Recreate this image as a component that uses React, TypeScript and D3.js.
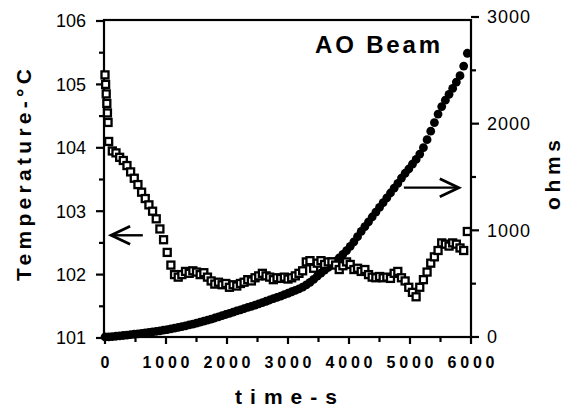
import * as d3 from 'd3'
import { useRef, useEffect } from 'react'

// temperature (open squares), [time s, deg C]
const tempSeries: [number, number][] = [
  [0, 105.15], [10, 105.0], [20, 104.85], [30, 104.7], [40, 104.55], [50, 104.4],
  [60, 104.1], [120, 103.95], [180, 103.92], [240, 103.85], [300, 103.8], [360, 103.72],
  [420, 103.62], [480, 103.52], [540, 103.42], [600, 103.3], [660, 103.2], [720, 103.1],
  [780, 103.0], [840, 102.88], [900, 102.72], [960, 102.55], [1020, 102.35], [1080, 102.15],
  [1140, 102.0], [1200, 101.96], [1260, 102.0], [1320, 102.05], [1380, 102.02], [1440, 102.06],
  [1500, 102.04], [1560, 102.0], [1620, 102.03], [1680, 101.96], [1740, 101.9], [1800, 101.85],
  [1860, 101.88], [1920, 101.84], [1980, 101.86], [2040, 101.8], [2100, 101.84], [2160, 101.82],
  [2220, 101.86], [2280, 101.88], [2340, 101.92], [2400, 101.9], [2460, 101.95], [2520, 101.98],
  [2580, 102.02], [2640, 101.98], [2700, 101.96], [2760, 101.92], [2820, 101.95], [2880, 101.94],
  [2940, 101.96], [3000, 101.93], [3060, 101.95], [3120, 101.98], [3180, 102.02], [3240, 102.06],
  [3300, 102.2], [3360, 102.22], [3420, 102.1], [3480, 102.18], [3540, 102.22], [3600, 102.16],
  [3660, 102.2], [3720, 102.2], [3780, 102.15], [3840, 102.08], [3900, 102.14], [3960, 102.2],
  [4020, 102.16], [4080, 102.08], [4140, 102.1], [4200, 102.05], [4260, 102.08], [4320, 102.0],
  [4380, 101.96], [4440, 101.95], [4500, 101.97], [4560, 101.95], [4620, 101.96], [4680, 101.94],
  [4740, 102.02], [4800, 102.05], [4860, 101.95], [4920, 101.9], [4980, 101.8], [5040, 101.72],
  [5100, 101.65], [5160, 101.8], [5220, 101.92], [5280, 102.04], [5340, 102.18], [5400, 102.28],
  [5460, 102.38], [5520, 102.5], [5580, 102.48], [5640, 102.45], [5700, 102.5], [5760, 102.48],
  [5820, 102.42], [5880, 102.38], [5940, 102.68],
]

// resistance (filled circles), [time s, ohms]
const ohmSeries: [number, number][] = [
  [0, 0], [60, 2], [120, 4], [180, 7], [240, 10], [300, 14], [360, 18], [420, 22], [480, 26],
  [540, 30], [600, 34], [660, 38], [720, 43], [780, 48], [840, 53], [900, 58], [960, 64],
  [1020, 70], [1080, 76], [1140, 83], [1200, 90], [1260, 97], [1320, 105], [1380, 113],
  [1440, 121], [1500, 130], [1560, 139], [1620, 148], [1680, 158], [1740, 168], [1800, 178],
  [1860, 189], [1920, 200], [1980, 211], [2040, 222], [2100, 233], [2160, 244], [2220, 255],
  [2280, 266], [2340, 277], [2400, 288], [2460, 299], [2520, 311], [2580, 323], [2640, 335],
  [2700, 347], [2760, 359], [2820, 371], [2880, 384], [2940, 397], [3000, 410], [3060, 424],
  [3120, 438], [3180, 452], [3240, 467], [3300, 488], [3360, 512], [3420, 540], [3480, 570],
  [3540, 598], [3600, 626], [3660, 652], [3720, 680], [3780, 710], [3840, 742], [3900, 775],
  [3960, 810], [4020, 850], [4080, 892], [4140, 940], [4200, 990], [4260, 1035], [4320, 1080],
  [4380, 1125], [4440, 1170], [4500, 1215], [4560, 1260], [4620, 1305], [4680, 1350],
  [4740, 1395], [4800, 1440], [4860, 1490], [4920, 1535], [4980, 1575], [5040, 1620],
  [5100, 1665], [5160, 1715], [5220, 1775], [5280, 1850], [5340, 1930], [5400, 2010],
  [5460, 2090], [5520, 2160], [5580, 2220], [5640, 2275], [5700, 2330], [5760, 2390],
  [5820, 2450], [5880, 2540], [5940, 2660],
]

const timeTicks = [0, 1000, 2000, 3000, 4000, 5000, 6000]
const timeMinor = [500, 1500, 2500, 3500, 4500, 5500]
const tempTicks = [101, 102, 103, 104, 105, 106]
const tempMinor = [101.5, 102.5, 103.5, 104.5, 105.5]
const ohmTicks = [0, 1000, 2000, 3000]
const ohmMinor = [500, 1500, 2500]

const font = '"Liberation Sans", Arial, sans-serif'

const App = () => {
  const svgRef = useRef(null)

  const width = 564
  const height = 410
  const left = 104
  const right = 471
  const top = 20
  const bottom = 337

  useEffect(() => {
    const svg = d3.select(svgRef.current)
    svg.selectAll('*').remove() // clear

    const x = d3.scaleLinear().domain([0, 6000]).range([left + 1, right])
    const yT = d3.scaleLinear().domain([101, 106]).range([bottom + 1, top + 1])
    const yR = d3.scaleLinear().domain([0, 3000]).range([bottom, top - 3])

    const ticks = svg.append('g').attr('stroke', '#000').attr('stroke-width', 2.2)

    // bottom ticks
    ticks.selectAll('line.xmaj').data(timeTicks).enter().append('line')
      .attr('x1', d => x(d)).attr('x2', d => x(d)).attr('y1', bottom).attr('y2', bottom + 7)
    ticks.selectAll('line.xmin').data(timeMinor).enter().append('line')
      .attr('x1', d => x(d)).attr('x2', d => x(d)).attr('y1', bottom).attr('y2', bottom + 5)
    svg.append('g').selectAll('text').data(timeTicks).enter().append('text')
      .attr('x', d => x(d)).attr('y', bottom + 31)
      .attr('text-anchor', 'middle')
      .attr('font-size', 16).attr('font-weight', 'bold').attr('font-family', font)
      .attr('textLength', d => (String(d).length > 1 ? 47 : 9))
      .attr('lengthAdjust', 'spacing')
      .text(d => d)

    // left ticks
    ticks.selectAll('line.tmaj').data(tempTicks).enter().append('line')
      .attr('x1', left - 8).attr('x2', left).attr('y1', d => yT(d)).attr('y2', d => yT(d))
    ticks.selectAll('line.tmin').data(tempMinor).enter().append('line')
      .attr('x1', left - 5).attr('x2', left).attr('y1', d => yT(d)).attr('y2', d => yT(d))
    svg.append('g').selectAll('text').data(tempTicks).enter().append('text')
      .attr('x', left - 18).attr('y', d => yT(d)).attr('dy', '0.35em')
      .attr('text-anchor', 'end')
      .attr('font-size', 18).attr('font-family', font)
      .attr('textLength', 30).attr('lengthAdjust', 'spacing')
      .text(d => d)

    // right ticks
    ticks.selectAll('line.rmaj').data(ohmTicks).enter().append('line')
      .attr('x1', right).attr('x2', right + 8).attr('y1', d => yR(d)).attr('y2', d => yR(d))
    ticks.selectAll('line.rmin').data(ohmMinor).enter().append('line')
      .attr('x1', right).attr('x2', right + 5).attr('y1', d => yR(d)).attr('y2', d => yR(d))
    svg.append('g').selectAll('text').data(ohmTicks).enter().append('text')
      .attr('x', right + 16).attr('y', d => yR(d)).attr('dy', '0.35em')
      .attr('font-size', 18).attr('font-family', font)
      .attr('textLength', d => (String(d).length > 1 ? 43 : 10))
      .attr('lengthAdjust', 'spacing')
      .text(d => d)

    // frame
    svg
      .append('rect')
      .attr('x', left)
      .attr('y', top)
      .attr('width', right - left)
      .attr('height', bottom - top)
      .attr('fill', 'none')
      .attr('stroke', '#000')
      .attr('stroke-width', 2.2)

    // resistance points
    svg
      .append('g')
      .selectAll('circle')
      .data(ohmSeries)
      .enter()
      .append('circle')
      .attr('cx', d => x(d[0]))
      .attr('cy', d => yR(d[1]))
      .attr('r', 4.4)
      .attr('fill', '#000')

    // temperature points
    const sq = 7
    svg
      .append('g')
      .selectAll('rect')
      .data(tempSeries)
      .enter()
      .append('rect')
      .attr('x', d => x(d[0]) - sq / 2)
      .attr('y', d => yT(d[1]) - sq / 2)
      .attr('width', sq)
      .attr('height', sq)
      .attr('fill', '#fff')
      .attr('stroke', '#000')
      .attr('stroke-width', 2.3)

    // arrows
    const drawArrow = (x1: number, x2: number, y: number) => {
      const dir = x2 > x1 ? -1 : 1
      svg.append('line')
        .attr('x1', x1).attr('x2', x2).attr('y1', y).attr('y2', y)
        .attr('stroke', '#000').attr('stroke-width', 2.4)
      svg.append('path')
        .attr('d', `M${x2 + dir * 19},${y - 9} L${x2},${y} L${x2 + dir * 19},${y + 9}`)
        .attr('fill', 'none').attr('stroke', '#000').attr('stroke-width', 2.8)
    }
    drawArrow(x(620), x(100), yT(102.62))
    drawArrow(x(4900), x(5800), yR(1400))

    // labels
    svg.append('text')
      .attr('x', 315).attr('y', 53)
      .attr('font-size', 24).attr('font-weight', 'bold').attr('font-family', font)
      .attr('textLength', 125).attr('lengthAdjust', 'spacing')
      .text('AO Beam')

    svg.append('text')
      .attr('transform', 'translate(31, 175) rotate(-90)')
      .attr('text-anchor', 'middle')
      .attr('font-size', 21).attr('font-weight', 'bold').attr('font-family', font)
      .attr('textLength', 212).attr('lengthAdjust', 'spacing')
      .text('Temperature-°C')

    svg.append('text')
      .attr('transform', 'translate(560, 175) rotate(-90)')
      .attr('text-anchor', 'middle')
      .attr('font-size', 21).attr('font-weight', 'bold').attr('font-family', font)
      .attr('textLength', 70).attr('lengthAdjust', 'spacing')
      .text('ohms')

    svg.append('text')
      .attr('x', 286).attr('y', 404)
      .attr('text-anchor', 'middle')
      .attr('font-size', 21).attr('font-weight', 'bold').attr('font-family', font)
      .attr('textLength', 102).attr('lengthAdjust', 'spacing')
      .text('time-s')
  }, [])

  return (
    <svg
      ref={svgRef}
      width={width}
      height={height}
      style={{ position: 'absolute', left: 0, top: 0, background: '#fff' }}
    ></svg>
  )
}

export default App
